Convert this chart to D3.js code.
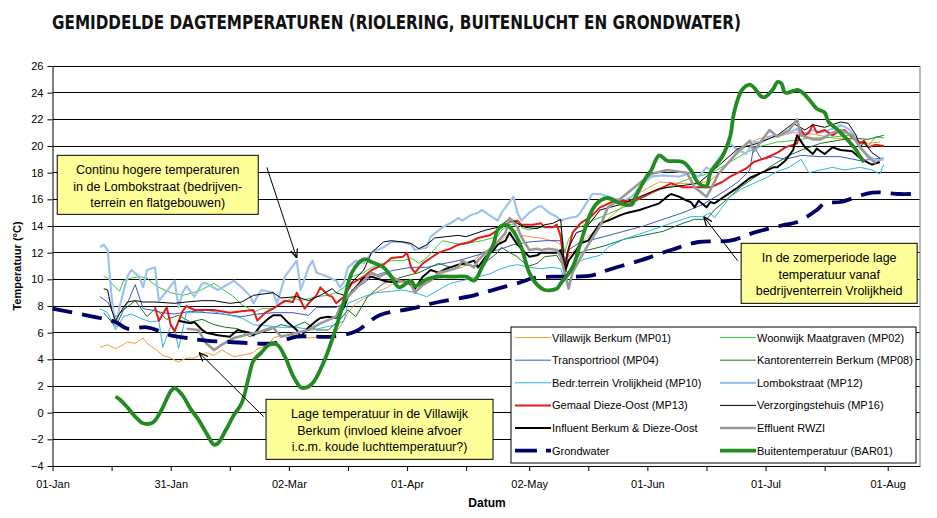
<!DOCTYPE html>
<html><head><meta charset="utf-8">
<script src="https://cdn.jsdelivr.net/npm/d3@7"></script>
<style>body{margin:0;background:#fff} svg{display:block;font-family:"Liberation Sans",Arial,sans-serif}</style>
</head><body><svg id="c" width="937" height="518"></svg>
<script>
// ---------- DATA (day of year from 01-Jan, temperature °C) ----------
const xTickLabels = ["01-Jan","31-Jan","02-Mar","01-Apr","02-May","01-Jun","01-Jul","01-Aug"];
const xTickDays   = [0,30,60,90,121,151,181,212];
const xMinorDays  = [15,45,75,105,136,166,196];
const yTicks      = [-4,-2,0,2,4,6,8,10,12,14,16,18,20,22,24,26];

const mp01 = [[12,4.9],[14,5.1],[16,4.8],[18,5.1],[19,5.3],[21,5.2],[23,5.6],[24,5.2],[26,4.8],[28,4.3],[30,4.1],[32,3.8],[34,4.1],[36,4.1],[39,4.5],[41,4.3],[43,4.7],[46,4.2],[48,4.3],[51,4.5],[52,4.8],[55,5.1],[56,5.6],[58,5.8],[62,5.8],[65,5.6],[68,5.7],[70,5.6],[73,6.4],[75,7.5],[77,8.2],[80,8.7],[82,9.0],[85,9.4],[86,9.6],[90,9.9],[92,9.0],[95,9.7],[97,10.2],[101,10.7],[104,10.9],[107,11.4],[109,12.0],[112,12.4],[114,12.9],[116,13.5],[118,13.7],[119,13.3],[121,13.2],[124,13.1],[128,12.8],[129,12.6],[131,11.7],[134,12.7],[136,13.2],[139,14.0],[144,15.3],[149,16.5],[154,17.3],[159,17.2],[164,17.2],[167,17.4],[170,18.2],[172,18.9],[175,19.7],[177,20.3],[181,20.7],[184,20.7],[188,21.0],[193,20.9],[198,20.6],[203,20.5],[207,20.2],[210,20.3]];
const mp02 = [[13,10.2],[14,10.1],[15,9.7],[17,9.1],[18,9.9],[20,10.1],[22,10.2],[24,10.1],[25,9.8],[27,9.4],[30,9.0],[33,8.8],[37,9.1],[39,9.4],[41,9.7],[43,9.3],[46,8.7],[48,8.1],[50,7.8],[51,7.5],[53,7.8],[56,7.8],[58,8.2],[61,8.6],[63,8.4],[67,8.7],[70,8.8],[72,9.0],[74,9.4],[76,10.2],[79,10.5],[81,10.9],[84,11.2],[86,11.4],[89,11.4],[91,11.6],[93,11.2],[95,11.6],[98,12.6],[99,12.9],[102,12.7],[104,12.6],[107,12.8],[109,12.9],[113,13.2],[114,13.7],[116,14.1],[118,14.2],[119,13.9],[121,13.7],[123,13.9],[125,13.9],[127,13.9],[129,13.9],[130,12.0],[131,13.0],[133,13.8],[135,14.1],[137,14.4],[141,14.9],[145,15.4],[149,16.0],[153,16.6],[157,17.0],[162,17.6],[165,17.8],[168,18.1],[172,18.8],[176,19.5],[180,20.0],[184,20.3],[188,20.4],[192,20.6],[196,20.6],[199,20.7],[202,20.8],[205,20.3],[207,20.0],[209,20.7],[211,20.6]];
const mp04 = [[12,8.7],[14,8.3],[16,7.2],[18,7.7],[19,8.2],[21,9.6],[23,7.8],[25,7.7],[28,7.5],[31,7.4],[35,7.6],[39,7.5],[43,7.4],[48,7.2],[52,7.4],[56,7.5],[61,7.5],[65,7.3],[67,7.9],[72,7.9],[74,8.2],[76,9.2],[79,9.7],[81,10.2],[84,10.5],[87,10.7],[91,10.9],[95,10.9],[98,11.1],[103,11.4],[110,12.0],[113,12.2],[117,12.6],[121,12.8],[125,12.9],[129,12.9],[130,11.4],[131,12.2],[134,12.8],[136,12.9],[140,13.2],[145,13.6],[150,14.0],[155,14.5],[160,15.0],[165,15.6],[170,16.5],[174,17.3],[177,18.2],[178,20.0],[180,19.0],[183,19.2],[186,19.0],[190,19.3],[195,19.2],[200,19.2],[205,18.9],[208,19.0],[211,19.1]];
const mp08 = [[13,7.5],[15,6.8],[16,6.4],[18,7.7],[21,8.4],[24,7.2],[26,7.8],[29,7.0],[32,7.3],[35,6.8],[38,7.0],[41,6.6],[44,6.4],[47,6.3],[50,5.7],[53,6.0],[55,6.2],[58,6.6],[61,6.4],[64,6.8],[67,6.2],[70,6.2],[73,7.0],[75,7.7],[77,7.2],[80,8.7],[84,9.7],[89,10.2],[93,10.5],[98,11.2],[101,10.9],[104,11.1],[108,11.0],[110,11.3],[113,12.0],[114,12.4],[116,12.0],[118,11.7],[119,11.4],[121,11.0],[123,11.2],[125,11.7],[128,11.8],[130,10.8],[131,10.4],[134,12.0],[136,12.2],[140,12.5],[145,13.0],[150,13.3],[155,13.6],[160,14.2],[163,14.5],[166,14.5],[168,15.2],[172,16.2],[175,17.0],[179,17.8],[183,18.6],[187,19.3],[191,19.8],[195,20.2],[199,20.4],[203,20.6],[207,20.5],[211,20.8]];
const mp10 = [[12,7.8],[14,7.5],[16,6.2],[18,7.2],[20,7.4],[23,7.0],[25,6.8],[27,6.9],[28,4.9],[30,6.5],[31,6.3],[32,4.8],[34,7.5],[37,7.5],[39,7.7],[42,7.5],[45,7.3],[48,7.1],[51,6.6],[55,6.5],[58,6.4],[62,6.4],[66,6.2],[69,6.4],[72,6.6],[74,6.9],[75,8.2],[79,8.7],[82,9.0],[86,9.1],[89,9.2],[92,9.0],[95,8.7],[98,9.2],[101,9.7],[104,9.9],[108,10.2],[111,10.4],[113,10.7],[116,11.0],[118,11.1],[121,10.9],[124,10.8],[127,10.9],[129,10.8],[130,10.0],[132,10.9],[134,11.4],[136,11.6],[139,11.8],[141,12.4],[145,13.0],[150,13.5],[154,13.9],[158,14.3],[162,14.7],[165,14.7],[167,15.0],[168,14.6],[170,15.4],[172,16.2],[175,16.8],[178,17.2],[181,17.6],[184,18.1],[187,18.4],[190,19.0],[192,18.0],[195,18.2],[198,18.4],[201,18.2],[205,18.4],[208,18.2],[210,17.9],[211,18.6]];
const mp12 = [[12,12.4],[13,12.6],[14,12.2],[15,8.7],[16,6.3],[17,7.9],[19,10.2],[20,10.7],[22,10.2],[23,9.4],[24,10.7],[26,10.9],[27,8.4],[29,9.1],[31,9.9],[32,7.9],[33,9.0],[34,9.5],[36,8.7],[38,9.7],[39,9.7],[42,9.2],[45,9.7],[46,9.9],[48,9.4],[50,8.8],[51,8.2],[53,9.2],[56,9.0],[57,8.2],[59,10.2],[62,11.4],[63,9.2],[65,10.9],[66,11.4],[67,10.5],[69,10.3],[72,9.9],[73,9.4],[74,9.8],[75,10.9],[77,11.4],[79,11.2],[81,12.0],[84,12.4],[86,12.8],[89,12.8],[91,12.6],[92,12.2],[95,12.4],[96,13.2],[99,13.9],[101,14.2],[103,14.6],[104,14.4],[106,14.8],[108,15.0],[109,15.2],[111,14.8],[113,14.4],[114,15.0],[115,15.4],[117,16.2],[118,15.0],[119,14.4],[121,15.0],[123,15.4],[124,15.5],[126,15.0],[128,14.7],[129,14.4],[131,14.6],[133,14.7],[134,15.0],[137,16.4],[139,16.4],[142,16.1],[145,15.9],[147,16.2],[150,17.2],[152,17.7],[155,17.8],[159,17.7],[162,18.0],[164,17.7],[166,18.4],[167,18.2],[170,19.4],[172,20.2],[173,19.9],[176,19.4],[178,20.3],[180,20.3],[182,20.7],[184,20.8],[187,21.0],[189,21.3],[190,20.8],[193,21.2],[195,21.0],[198,21.3],[200,21.6],[202,21.3],[204,20.7],[205,19.9],[207,19.3],[209,18.9],[211,19.0]];
const mp13 = [[26,7.9],[27,6.9],[29,7.9],[30,6.6],[31,6.1],[33,7.6],[34,8.0],[36,7.7],[41,7.7],[45,7.5],[48,7.6],[51,7.7],[52,6.9],[54,7.5],[56,7.8],[59,8.4],[61,8.3],[62,9.0],[64,7.8],[65,8.2],[67,8.8],[68,9.4],[70,8.8],[71,8.7],[72,8.2],[74,8.7],[76,9.7],[79,10.2],[81,10.7],[84,11.1],[86,11.6],[89,11.7],[90,12.0],[91,10.9],[92,10.5],[94,11.2],[96,11.6],[98,12.0],[101,12.3],[103,12.6],[106,12.8],[108,13.1],[111,13.3],[113,13.7],[116,14.3],[118,14.4],[119,14.1],[122,14.1],[124,14.2],[125,13.9],[127,13.9],[128,14.1],[129,13.2],[130,10.7],[131,12.2],[132,13.5],[134,14.2],[137,14.8],[139,15.4],[142,15.8],[145,15.9],[147,15.8],[150,16.2],[152,16.5],[155,16.9],[157,17.2],[160,16.9],[163,16.9],[167,16.9],[170,17.3],[172,17.7],[176,18.3],[178,18.8],[181,19.1],[184,19.5],[186,19.9],[189,20.2],[190,21.2],[191,20.8],[192,21.0],[193,21.6],[194,21.0],[196,21.2],[198,20.8],[199,21.0],[201,21.2],[203,20.7],[205,20.2],[206,20.4],[207,19.9],[209,20.1],[211,20.0]];
const mp16 = [[13,9.3],[14,9.2],[15,7.7],[16,6.9],[18,7.9],[19,8.3],[21,8.4],[23,8.3],[26,8.3],[31,8.2],[34,8.3],[38,8.4],[41,8.4],[45,8.2],[48,8.3],[51,8.8],[56,9.0],[58,8.6],[62,8.7],[65,8.4],[68,8.8],[71,9.3],[72,9.0],[74,8.8],[76,9.8],[79,10.7],[81,12.0],[84,12.8],[86,12.9],[89,12.8],[91,12.7],[93,12.3],[95,12.6],[97,13.1],[100,13.2],[103,13.3],[105,13.2],[108,13.5],[110,13.7],[113,13.9],[115,14.3],[116,14.6],[118,14.2],[120,13.9],[123,13.8],[125,14.1],[127,14.2],[129,14.5],[130,10.9],[131,12.4],[133,13.5],[135,13.7],[139,15.2],[144,15.6],[149,16.2],[154,16.8],[159,17.0],[164,17.2],[169,18.5],[174,19.8],[179,20.2],[184,20.8],[188,21.7],[191,21.2],[193,21.6],[196,21.4],[200,21.8],[202,21.7],[204,20.8],[205,19.9],[206,20.3],[208,19.5],[210,19.1]];
const influent = [[32,6.9],[35,6.7],[36,6.8],[38,6.2],[39,6.0],[42,5.8],[45,5.7],[47,6.2],[50,6.0],[51,5.8],[53,6.6],[55,7.1],[56,7.3],[58,7.3],[60,6.7],[62,6.2],[63,5.7],[65,6.4],[67,6.9],[68,7.1],[70,7.2],[72,7.1],[73,7.5],[74,7.9],[75,8.7],[79,10.1],[81,10.2],[84,9.9],[86,9.8],[89,9.9],[91,9.6],[92,9.3],[94,10.2],[96,10.7],[98,10.5],[100,10.8],[103,11.1],[105,11.2],[107,11.4],[108,10.9],[110,11.7],[112,12.2],[113,12.6],[115,12.9],[116,13.5],[118,12.6],[119,12.3],[121,11.7],[123,11.8],[124,12.0],[126,12.0],[128,12.0],[129,12.2],[130,10.5],[131,11.4],[133,12.2],[134,12.7],[136,12.9],[139,14.2],[141,14.4],[144,14.8],[146,15.0],[149,15.2],[151,15.4],[154,15.7],[156,16.2],[157,16.4],[159,16.2],[161,15.9],[162,15.8],[163,15.4],[164,15.9],[166,15.4],[167,15.8],[168,15.7],[170,16.1],[174,16.9],[177,17.6],[180,18.0],[183,18.4],[184,18.4],[186,18.9],[188,19.7],[189,20.8],[191,19.9],[193,19.4],[194,19.8],[196,19.4],[198,19.9],[200,19.7],[203,19.6],[205,19.1],[206,18.9],[208,18.6],[210,18.8]];
const effluent = [[34,6.3],[37,6.2],[39,5.2],[41,4.7],[43,5.1],[46,5.6],[50,5.9],[53,6.1],[56,6.4],[58,5.7],[62,6.0],[65,6.2],[68,6.7],[72,7.2],[73,7.9],[75,8.7],[79,9.9],[81,10.5],[83,10.2],[85,10.5],[86,10.2],[88,9.9],[91,9.7],[92,9.0],[94,9.6],[96,9.9],[98,10.5],[101,10.7],[103,10.9],[104,11.4],[107,10.9],[108,11.4],[110,12.0],[113,12.8],[115,13.5],[116,14.6],[118,13.9],[119,13.2],[121,12.2],[123,12.3],[124,12.2],[126,12.3],[128,12.2],[129,11.7],[131,9.3],[132,10.5],[134,11.6],[136,12.6],[139,14.0],[141,15.4],[144,16.0],[149,17.2],[152,17.9],[156,18.2],[161,18.0],[163,16.9],[166,16.2],[167,16.7],[169,17.9],[172,18.9],[174,19.6],[177,20.4],[178,19.6],[182,21.2],[184,20.7],[187,21.2],[189,22.0],[190,20.8],[193,20.5],[195,20.5],[198,21.0],[200,21.2],[203,20.8],[205,19.9],[207,19.2],[209,18.7]];
const grondwater = [[0,7.8],[12,7.1],[16,6.8],[19,6.3],[24,6.4],[30,5.8],[34,5.6],[39,5.4],[45,5.3],[51,5.2],[56,5.2],[62,5.7],[67,5.7],[71,5.7],[77,6.1],[83,7.3],[91,7.8],[98,8.3],[107,8.8],[113,9.3],[119,9.8],[122,10.1],[127,10.2],[132,10.2],[137,10.3],[141,10.7],[149,11.4],[157,12.2],[164,12.8],[172,12.9],[178,13.5],[186,14.1],[189,14.3],[194,15.2],[196,15.7],[200,15.8],[208,16.5],[215,16.4],[218,16.4]];
const bar01 = [[16,1.2],[17,1.0],[19,0.4],[21,-0.3],[23,-0.8],[25,-0.8],[26,-0.6],[28,0.4],[30,1.6],[31,1.85],[33,1.3],[35,0.3],[37,-0.5],[39,-1.5],[41,-2.4],[42,-2.3],[44,-1.3],[46,-0.2],[48,0.7],[50,2.9],[51,3.9],[53,4.5],[55,5.1],[57,5.1],[59,4.2],[61,2.8],[63,1.9],[64,1.85],[66,2.2],[69,3.9],[72,6.4],[74,8.4],[76,10.5],[79,11.5],[81,11.3],[84,10.9],[86,10.2],[88,9.4],[91,9.9],[92,9.5],[95,10.0],[98,10.2],[102,10.2],[105,10.2],[107,9.9],[109,10.9],[112,12.7],[113,13.7],[115,14.1],[117,13.6],[119,12.4],[121,10.5],[123,9.6],[125,9.2],[128,9.3],[129,9.7],[132,10.9],[134,12.7],[137,15.2],[139,15.9],[141,16.1],[144,15.7],[147,15.6],[148,16.2],[151,17.8],[152,18.2],[154,19.3],[156,18.9],[160,18.8],[162,18.2],[164,17.2],[166,17.0],[167,18.0],[170,19.2],[172,20.7],[173,22.5],[175,24.2],[177,24.6],[178,24.4],[180,23.7],[181,23.7],[183,24.3],[184,24.8],[185,24.7],[186,24.0],[189,24.2],[190,24.1],[192,23.5],[194,22.8],[196,22.5],[197,21.8],[199,21.3],[200,21.0],[202,20.4],[204,19.7],[205,19.2],[206,18.8]];

const seriesNames = ["Villawijk Berkum (MP01)","Woonwijk Maatgraven (MP02)","Transportriool (MP04)","Kantorenterrein Berkum (MP08)","Bedr.terrein Vrolijkheid (MP10)","Lombokstraat (MP12)","Gemaal Dieze-Oost (MP13)","Verzorgingstehuis (MP16)","Influent Berkum & Dieze-Oost","Effluent RWZI","Grondwater","Buitentemperatuur (BAR01)"];

// ---------- styling / config ----------
const series = [
  {name:seriesNames[0], data:mp01, color:"#F39A3E", w:1},
  {name:seriesNames[1], data:mp02, color:"#33CC33", w:1},
  {name:seriesNames[2], data:mp04, color:"#3A58C8", w:1},
  {name:seriesNames[3], data:mp08, color:"#1E6E1E", w:1},
  {name:seriesNames[4], data:mp10, color:"#29B6E8", w:1},
  {name:seriesNames[5], data:mp12, color:"#9DC3EC", w:2.2},
  {name:seriesNames[6], data:mp13, color:"#E51A1A", w:2},
  {name:seriesNames[7], data:mp16, color:"#000000", w:1},
  {name:seriesNames[8], data:influent, color:"#000000", w:2},
  {name:seriesNames[9], data:effluent, color:"#999999", w:2.6},
  {name:seriesNames[10], data:grondwater, color:"#000066", w:3.8, dash:"20,10", smooth:true},
  {name:seriesNames[11], data:bar01, color:"#228B22", w:3.8, smooth:true}
];

const M = {l:52.5, r:920, t:66, b:466};
const t0 = Date.UTC(2009,0,1);
const toDate = d => new Date(t0 + d*864e5);
const x = d3.scaleUtc().domain([toDate(0), toDate(220.2)]).range([M.l, M.r]);
const y = d3.scaleLinear().domain([-4,26]).range([M.b, M.t]);

const svg = d3.select("#c");
svg.append("rect").attr("width",937).attr("height",518).attr("fill","#fff");

// title
svg.append("text").attr("x",52).attr("y",29)
  .attr("font-family",'"Liberation Sans Narrow","DejaVu Sans Condensed",sans-serif')
  .attr("font-weight","bold").attr("font-size",19).attr("fill","#111")
  .attr("textLength",689).attr("lengthAdjust","spacingAndGlyphs")
  .text("GEMIDDELDE DAGTEMPERATUREN (RIOLERING, BUITENLUCHT EN GRONDWATER)");

// gridlines
svg.append("g").selectAll("line").data(yTicks.filter(v=>v>-4)).join("line")
  .attr("x1",M.l).attr("x2",M.r).attr("y1",d=>y(d)).attr("y2",d=>y(d))
  .attr("stroke","#000").attr("stroke-width",1).attr("shape-rendering","crispEdges");
// right border
svg.append("line").attr("x1",M.r).attr("x2",M.r).attr("y1",M.t).attr("y2",M.b)
  .attr("stroke","#8c8c8c").attr("stroke-width",1.2);

// axes
const xAxis = svg.append("g").attr("transform",`translate(0,${M.b})`)
  .call(d3.axisBottom(x).tickValues(xTickDays.map(toDate)).tickFormat((d,i)=>xTickLabels[i]).tickSize(5).tickSizeOuter(0).tickPadding(9));
const xMinor = svg.append("g").attr("transform",`translate(0,${M.b})`)
  .call(d3.axisBottom(x).tickValues(xMinorDays.map(toDate)).tickFormat("").tickSize(5).tickSizeOuter(0));
xMinor.select(".domain").remove();
const yAxis = svg.append("g").attr("transform",`translate(${M.l},0)`)
  .call(d3.axisLeft(y).tickValues(yTicks).tickSize(5).tickSizeOuter(0).tickPadding(4));
[xAxis,yAxis].forEach(g=>{
  g.selectAll("text").attr("font-family",'"Liberation Sans",Arial,sans-serif').attr("font-size",11).attr("fill","#000");
  g.selectAll("line,path").attr("stroke","#000");
});
xMinor.selectAll("line").attr("stroke","#000");

svg.append("text").attr("transform","translate(21,266) rotate(-90)").attr("text-anchor","middle")
  .attr("font-weight","bold").attr("font-size",11).text("Temperatuur (°C)");
svg.append("text").attr("x",487).attr("y",507).attr("text-anchor","middle")
  .attr("font-weight","bold").attr("font-size",12).text("Datum");

// lines
const lineLin = d3.line().x(p=>x(toDate(p[0]))).y(p=>y(p[1]));
const lineSm = d3.line().x(p=>x(toDate(p[0]))).y(p=>y(p[1])).curve(d3.curveCatmullRom.alpha(0.5));
const gl = svg.append("g");
series.forEach(s=>{
  gl.append("path").attr("d",(s.smooth?lineSm:lineLin)(s.data)).attr("fill","none")
    .attr("stroke",s.color).attr("stroke-width",s.w).attr("stroke-linejoin","round")
    .attr("stroke-dasharray",s.dash||null);
});

// annotations (anchored in data coordinates)
const notes = [
  {box:[1.2,19.3,201,59], lines:["Continu hogere temperaturen","in de Lombokstraat (bedrijven-","terrein en flatgebouwen)"], from:[54.4,18.4], to:[62,11.6]},
  {box:[54.2,1.0,227,60], lines:["Lage temperatuur in de Villawijk","Berkum (invloed kleine afvoer","i.c.m. koude luchttemperatuur?)"], from:[53.6,-0.3], to:[37.2,4.5]},
  {box:[174.8,12.7,176,60], lines:["In de zomerperiode lage","temperatuur vanaf","bedrijventerrein Vrolijkheid"], from:[173.9,11.4], to:[165.3,14.7]}
];
const defs = svg.append("defs");
defs.append("marker").attr("id","ah").attr("viewBox","0 0 10 10").attr("refX",10).attr("refY",5)
  .attr("markerWidth",9).attr("markerHeight",9).attr("markerUnits","userSpaceOnUse").attr("orient","auto")
  .append("path").attr("d","M0,1 L10,5 L0,9").attr("fill","none").attr("stroke","#000").attr("stroke-width",1.4);
const ga = svg.append("g");
notes.forEach(n=>{
  ga.append("line").attr("x1",x(toDate(n.from[0]))).attr("y1",y(n.from[1]))
    .attr("x2",x(toDate(n.to[0]))).attr("y2",y(n.to[1])).attr("stroke","#000").attr("stroke-width",1)
    .attr("marker-end","url(#ah)");
  const bx = x(toDate(n.box[0])), by = y(n.box[1]);
  ga.append("rect").attr("x",bx).attr("y",by).attr("width",n.box[2]).attr("height",n.box[3])
    .attr("fill","#FFFF99").attr("stroke","#000").attr("stroke-width",1);
  n.lines.forEach((t,i)=>{
    ga.append("text").attr("x",bx+n.box[2]/2).attr("y",by+19+i*16.5).attr("text-anchor","middle")
      .attr("font-size",12.5).attr("fill","#000").text(t);
  });
});

// legend
const lg = svg.append("g");
lg.append("rect").attr("x",511).attr("y",327).attr("width",405).attr("height",136)
  .attr("fill","#fff").attr("stroke","#000").attr("stroke-width",1);
series.forEach((s,i)=>{
  const col = i%2, row = Math.floor(i/2);
  const lx = col? 720:515, ty = 337.6 + row*22.6;
  lg.append("line").attr("x1",lx).attr("x2",lx+36).attr("y1",ty).attr("y2",ty)
    .attr("stroke",s.color).attr("stroke-width",s.w).attr("stroke-dasharray",s.dash?"22,9":null);
  lg.append("text").attr("x",lx+37).attr("y",ty+4).attr("font-size",11).attr("fill","#000").text(s.name);
});
</script></body></html>
